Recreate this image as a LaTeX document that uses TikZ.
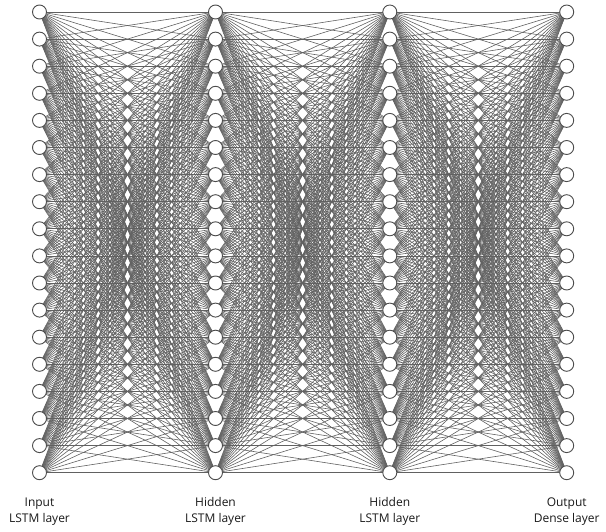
\documentclass[tikz,border=0pt]{standalone}
\usepackage{fontspec}
\setmainfont{Open Sans}
\pgfdeclarelayer{background}
\pgfsetlayers{background,main}
\tikzset{
  neuron/.style={circle, draw=black!70, line width=0.9pt, fill=white, minimum size=14pt, inner sep=0pt},
  link/.style={draw=black!62, line width=0.6pt},
  caption/.style={align=center, font=\fontsize{12}{15.5}\selectfont, text=black!90}
}
\begin{document}
\begin{tikzpicture}[x=1pt,y=-1pt]
\useasboundingbox (0,0) rectangle (606,532);
\foreach \c/\x in {1/39.5,2/215.5,3/389.8,4/566.7}{
  \foreach \r in {1,...,18}{
    \node[neuron] (n\c-\r) at (\x,{12+(\r-1)*27.1}) {};
  }
}
\begin{pgfonlayer}{background}
\foreach \c [evaluate=\c as \d using int(\c+1)] in {1,2,3}{
  \foreach \r in {1,...,18}{
    \foreach \s in {1,...,18}{
      \draw[link] (n\c-\r.center) -- (n\d-\s.center);
    }
  }
}
\end{pgfonlayer}
\node[caption] (t1) at (39.5,511.5) {Input\\LSTM layer};
\node[caption] (t2) at (215.5,511.5) {Hidden\\LSTM layer};
\node[caption] (t3) at (389.8,511.5) {Hidden\\LSTM layer};
\node[caption] (t4) at (566.7,511.5) {Output\\Dense layer};
\end{tikzpicture}
\end{document}
